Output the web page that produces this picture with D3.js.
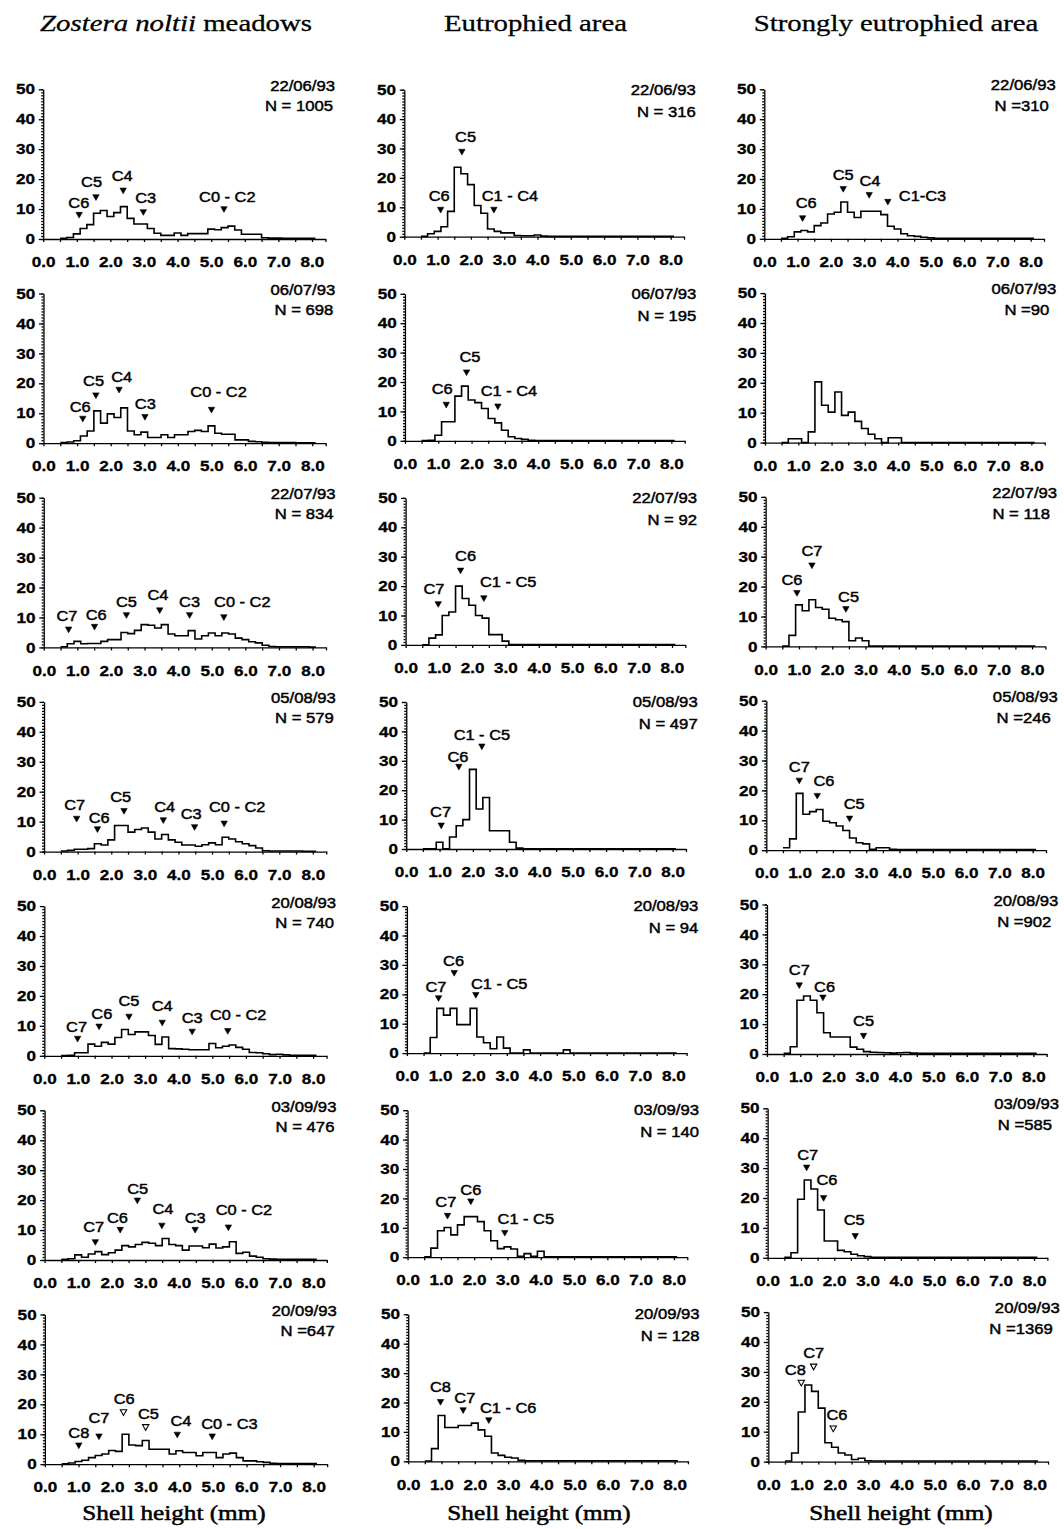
<!DOCTYPE html>
<html><head><meta charset="utf-8">
<script src="https://cdn.jsdelivr.net/npm/d3@7"></script>
<style>body{margin:0;background:#fff}</style>
</head><body>
<svg id="chart" width="1064" height="1529"></svg>
<script>
// ---------------- DATA ----------------
const columnTitles = ["Zostera noltii meadows", "Eutrophied area", "Strongly eutrophied area"];
const italicPhrase = "Zostera noltii";
const axisTitle = "Shell height (mm)";
const sampleDates = ["22/06/93","06/07/93","22/07/93","05/08/93","20/08/93","03/09/93","20/09/93"];
const xTickValues = [0,1,2,3,4,5,6,7,8];
const xTickLabels = ["0.0","1.0","2.0","3.0","4.0","5.0","6.0","7.0","8.0"];
const xMinorTicks = [0.5,1.5,2.5,3.5,4.5,5.5,6.5,7.5,8.4];
const yTickValues = [0,10,20,30,40,50];
const yTickLabels = ["0","10","20","30","40","50"];
// size classes (mm, class mid-points), width 0.2 mm
const binMids = [0.6,0.8,1.0,1.2,1.4,1.6,1.8,2.0,2.2,2.4,2.6,2.8,3.0,3.2,3.4,3.6,3.8,4.0,4.2,4.4,
                 4.6,4.8,5.0,5.2,5.4,5.6,5.8,6.0,6.2,6.4,6.6,6.8,7.0,7.2,7.4,7.6,7.8,8.0];
const binWidth = 0.2;

const zosteraN = ["N = 1005","N = 698","N = 834","N = 579","N = 740","N = 476","N =647"];
const eutrophN = ["N = 316","N = 195","N = 92","N = 497","N = 94","N = 140","N = 128"];
const strongN  = ["N =310","N =90","N = 118","N =246","N =902","N =585","N =1369"];

// frequency (%) per size class
const zosteraFreq = [
 [0.2,0.5,1.7,3.5,4.8,8.6,9.5,7.5,8.8,10.8,6.9,5.0,5.0,3.5,1.9,1.2,1.2,2.0,1.2,1.8,1.8,1.8,3.3,3.1,3.8,4.3,3.0,1.6,1.6,1.6,0.4,0.3,0.3,0.2,0.2,0.2,0.2,0.2],
 [0.2,0.4,0.8,2.4,4.1,10.8,6.7,9.8,8.6,11.8,4.1,2.8,3.7,1.9,1.9,2.8,1.9,2.8,2.8,3.9,4.3,3.9,5.8,3.3,3.0,3.0,1.1,1.1,0.6,0.5,0.3,0.2,0.2,0.2,0.2,0.1,0.1,0.1],
 [0.2,1.2,2.0,1.2,1.3,1.3,2.0,2.6,2.6,5.0,4.6,5.7,7.6,7.4,6.5,7.6,4.5,3.9,3.9,5.6,2.8,3.9,4.8,3.9,4.8,4.5,3.1,2.6,1.9,1.5,0.7,0.3,0.2,0.2,0.2,0.2,0.2,0.1],
 [0.2,0.4,0.8,0.8,1.0,2.6,2.2,3.9,8.7,8.7,6.5,7.4,7.9,6.5,4.2,5.7,3.9,3.1,2.2,2.2,1.8,2.3,2.9,2.3,4.8,4.2,3.3,2.6,2.0,1.2,0.3,0.2,0.2,0.2,0.2,0.2,0.1,0.1],
 [0.1,0.2,1.0,1.0,3.9,3.2,4.5,3.9,6.1,8.8,7.1,8.0,8.0,6.8,3.8,6.3,2.4,2.3,2.2,2.0,2.0,2.0,4.1,2.7,3.2,3.6,2.8,2.2,1.1,1.0,0.7,0.4,0.5,0.3,0.2,0.2,0.2,0.2],
 [0.2,0.4,1.7,0.9,2.0,2.8,1.8,2.4,3.3,4.8,4.4,5.2,5.9,5.6,4.8,7.2,5.2,4.8,3.3,4.7,4.7,4.1,5.3,4.0,4.4,6.1,2.2,2.6,1.3,0.9,0.4,0.3,0.2,0.2,0.2,0.2,0.2,0.2],
 [0.1,0.4,0.9,1.3,2.2,2.9,3.4,4.6,4.3,10.0,6.4,6.2,7.9,5.0,5.0,5.0,3.4,4.5,3.9,3.9,2.8,3.9,3.9,2.2,3.4,3.7,2.2,1.1,1.1,0.8,0.6,0.3,0.2,0.2,0.2,0.2,0.2,0.2]
];
const eutrophFreq = [
 [0.1,1.0,1.8,3.4,8.6,23.6,21.4,17.7,10.6,8.0,2.6,1.8,1.3,1.3,0.4,0.3,0.3,0.6,0.2,0.1,0.1,0.1,0.1,0.1,0.1,0.1,0.1,0.1,0.1,0.1,0.1,0.1,0.1,0.1,0.1,0.1,0.1,0.1],
 [0.1,0.2,1.9,6.5,6.5,15.2,18.6,13.9,13.0,11.0,7.6,6.1,3.6,1.4,0.8,0.5,0.2,0.1,0.1,0.1,0.1,0.1,0.1,0.1,0.1,0.1,0.1,0.1,0.1,0.1,0.1,0.1,0.1,0.1,0.1,0.1,0.1,0.1],
 [0.0,2.3,3.4,10.0,11.2,20.0,15.8,13.5,10.0,9.1,3.5,3.5,1.3,0.1,0.1,0.1,0.1,0.1,0.1,0.1,0.1,0.1,0.1,0.1,0.1,0.1,0.1,0.1,0.1,0.1,0.1,0.1,0.1,0.1,0.1,0.1,0.1,0.1],
 [0.1,0.1,2.3,0.1,4.1,7.9,10.0,27.1,13.6,17.5,6.2,6.2,6.2,2.3,0.3,0.1,0.1,0.1,0.1,0.1,0.1,0.1,0.1,0.1,0.1,0.1,0.1,0.1,0.1,0.1,0.1,0.1,0.1,0.1,0.1,0.1,0.1,0.1],
 [0.0,5.3,15.2,12.9,15.2,9.7,9.7,15.2,5.5,3.5,1.5,5.5,1.7,0.0,0.0,1.1,0.0,0.0,0.0,0.0,0.0,1.1,0.0,0.0,0.0,0.0,0.0,0.0,0.0,0.0,0.0,0.0,0.0,0.0,0.0,0.0,0.0,0.0],
 [0.1,3.1,9.0,10.1,7.6,11.0,13.8,13.8,12.1,9.0,5.6,2.9,3.5,2.8,0.3,1.2,0.3,2.0,0.1,0.1,0.1,0.1,0.1,0.1,0.1,0.1,0.1,0.1,0.1,0.1,0.1,0.1,0.1,0.1,0.1,0.1,0.1,0.1],
 [0.1,4.3,15.6,11.5,11.5,12.2,12.2,13.0,10.7,8.5,2.8,2.0,1.4,1.1,0.3,0.2,0.2,0.2,0.2,0.2,0.2,0.2,0.2,0.2,0.2,0.2,0.2,0.2,0.2,0.2,0.2,0.2,0.2,0.2,0.2,0.2,0.2,0.2]
];
const strongFreq = [
 [0.2,0.7,2.3,2.8,2.3,4.4,5.3,8.3,8.9,12.3,8.9,7.1,9.2,9.2,9.2,8.1,4.2,3.3,1.7,1.0,0.8,0.5,0.3,0.2,0.2,0.2,0.2,0.2,0.2,0.2,0.2,0.2,0.2,0.2,0.2,0.2,0.2,0.2],
 [0.0,1.3,1.3,0.0,3.6,20.3,12.5,10.2,16.9,9.1,10.2,7.1,4.7,2.8,1.3,0.0,1.6,1.6,0.0,0.0,0.0,0.0,0.0,0.0,0.0,0.0,0.0,0.0,0.0,0.0,0.0,0.0,0.0,0.0,0.0,0.0,0.0,0.0],
 [0.1,3.7,13.9,11.9,15.6,13.0,12.4,9.4,8.9,8.3,1.9,2.8,1.9,0.1,0.1,0.1,0.1,0.1,0.1,0.1,0.1,0.1,0.1,0.1,0.1,0.1,0.1,0.1,0.1,0.1,0.1,0.1,0.1,0.1,0.1,0.1,0.1,0.1],
 [0.8,3.8,19.0,12.0,12.9,13.6,9.7,9.2,8.1,6.6,4.1,2.5,2.1,0.3,0.8,0.8,0.3,0.2,0.2,0.2,0.2,0.2,0.2,0.2,0.2,0.2,0.2,0.2,0.2,0.2,0.2,0.2,0.2,0.2,0.2,0.2,0.2,0.2],
 [0.2,2.4,18.0,19.4,18.0,13.8,7.1,5.7,5.7,5.7,2.3,1.6,0.8,0.6,0.5,0.4,0.3,0.4,0.5,0.3,0.2,0.2,0.2,0.2,0.2,0.2,0.2,0.2,0.2,0.2,0.2,0.2,0.2,0.2,0.2,0.2,0.2,0.2],
 [0.2,1.7,19.6,26.0,23.0,16.0,5.6,5.6,2.5,2.0,1.2,0.7,0.4,0.2,0.2,0.2,0.2,0.2,0.2,0.2,0.2,0.2,0.2,0.2,0.2,0.2,0.2,0.2,0.2,0.2,0.2,0.2,0.2,0.2,0.2,0.2,0.2,0.2],
 [0.2,2.9,16.6,25.6,23.5,17.9,6.3,4.8,2.9,2.2,0.7,1.1,0.3,0.2,0.2,0.2,0.2,0.2,0.2,0.2,0.2,0.2,0.2,0.2,0.2,0.2,0.2,0.2,0.2,0.2,0.2,0.2,0.2,0.2,0.2,0.2,0.2,0.2]
];

// cohort marks: [name, mode size (mm), marker level (%), label centre size (mm), label centre level (%)]
const zosteraCohorts = [
 [["C6",1.07,8.0,1.06,12.1],["C5",1.57,13.9,1.44,19.2],["C4",2.38,16.1,2.35,21.0],["C3",2.98,8.9,3.05,13.6],["C0 - C2",5.38,9.9,5.48,14.1]],
 [["C6",1.17,8.1,1.09,12.2],["C5",1.56,15.9,1.49,20.9],["C4",2.25,17.8,2.33,22.0],["C3",3.02,8.7,3.03,13.0],["C0 - C2",5.0,11.1,5.21,17.2]],
 [["C7",0.74,5.9,0.69,10.4],["C6",1.51,6.8,1.56,10.9],["C5",2.46,10.7,2.46,15.2],["C4",3.45,12.3,3.40,17.6],["C3",4.34,10.7,4.34,15.1],["C0 - C2",5.36,10.0,5.91,15.1]],
 [["C7",0.97,10.9,0.91,15.7],["C6",1.59,7.4,1.64,11.3],["C5",2.38,13.5,2.28,18.2],["C4",3.55,10.4,3.59,14.8],["C3",4.48,8.1,4.38,12.6],["C0 - C2",5.36,9.3,5.75,14.8]],
 [["C7",0.99,5.6,0.96,9.7],["C6",1.63,9.7,1.71,14.1],["C5",2.52,13.0,2.52,18.4],["C4",3.51,11.0,3.51,16.6],["C3",4.40,8.0,4.40,12.8],["C0 - C2",5.46,8.2,5.77,13.6]],
 [["C7",1.51,5.9,1.46,11.1],["C6",2.25,10.0,2.17,13.9],["C5",2.76,19.8,2.77,23.6],["C4",3.49,11.4,3.52,17.0],["C3",4.48,10.0,4.48,14.2],["C0 - C2",5.47,10.8,5.93,16.7]],
 [["C8",1.01,6.2,1.01,10.3],["C7",1.61,9.2,1.61,15.3],["C6",2.34,17.3,2.36,21.8],["C5",3.0,12.3,3.08,16.8],["C4",3.94,9.8,4.05,14.3],["C0 - C3",4.98,9.2,5.49,13.6]]
];
const eutrophCohorts = [
 [["C6",1.09,9.1,1.05,14.0],["C5",1.73,28.8,1.84,33.9],["C1 - C4",2.69,9.1,3.17,14.0]],
 [["C6",1.24,12.2,1.12,17.5],["C5",1.85,23.2,1.95,28.4],["C1 - C4",2.79,11.6,3.12,16.9]],
 [["C7",0.98,13.8,0.85,19.2],["C6",1.65,25.2,1.80,30.3],["C1 - C5",2.35,15.8,3.08,21.5]],
 [["C7",1.05,7.9,1.03,12.7],["C6",1.58,27.9,1.55,31.3],["C1 - C5",2.27,34.8,2.27,38.8]],
 [["C7",0.95,18.6,0.87,22.4],["C6",1.42,27.2,1.40,31.5],["C1 - C5",2.07,19.7,2.77,23.5]],
 [["C7",1.20,14.0,1.15,18.9],["C6",1.90,18.9,1.90,23.0],["C1 - C5",2.92,8.2,3.55,13.0]],
 [["C8",0.97,20.1,0.97,25.2],["C7",1.65,17.3,1.70,21.5],["C1 - C6",2.42,13.9,3.0,18.1]]
];
const strongCohorts = [
 [["C6",1.15,6.8,1.26,12.0],["C5",2.37,16.6,2.37,21.4],["C4",3.15,14.6,3.17,19.4],["C1-C3",3.71,12.3,4.75,14.3]],
 [],
 [["C6",0.94,17.8,0.79,22.2],["C7",1.39,27.0,1.39,32.0],["C5",2.41,12.4,2.49,16.7]],
 [["C7",0.99,23.2,0.99,27.9],["C6",1.53,18.1,1.73,23.2],["C5",2.50,10.5,2.64,15.5]],
 [["C7",0.97,22.9,0.97,28.0],["C6",1.68,18.8,1.73,22.4],["C5",2.90,6.0,2.90,11.0]],
 [["C7",1.17,30.1,1.20,34.5],["C6",1.68,19.9,1.78,25.9],["C5",2.63,7.2,2.60,12.7]],
 [["C8",0.99,26.3,0.81,30.8],["C7",1.36,31.7,1.36,36.4],["C6",1.95,11.0,2.06,15.5]]
];
// cohorts drawn with an open triangle: "column-row-name"
const openCohorts = ["0-6-C6","0-6-C5","2-6-C8","2-6-C7","2-6-C6"];

// ---------------- DRAWING ----------------
const SANS = "'Liberation Sans', Arial, Helvetica, sans-serif";
const SERIF = "'Liberation Serif', 'Times New Roman', serif";
const svg = d3.select("#chart");
svg.append("rect").attr("width",1064).attr("height",1529).attr("fill","#fff");

const panelsByColumn = [
  {freq: zosteraFreq, n: zosteraN, cohorts: zosteraCohorts},
  {freq: eutrophFreq, n: eutrophN, cohorts: eutrophCohorts},
  {freq: strongFreq,  n: strongN,  cohorts: strongCohorts}
];
const L = {
  x0: [43.2, 404.3, 764.3], skew: [0.28, 0.65, 0.67], unit: [33.6, 33.3, 33.3],
  top: [89.3, 89.7, 89.3], rowStep: [204.2, 204.1, 203.8], h: [149.7, 147, 149.5],
  dateDx: [23, 25, 25], nDx: [21, 25, 18], dateDy: [1.5, 5, 1], nDy: [21.5, 27, 22],
  titleX: [176, 535.5, 896], axisTitleX: [174, 539, 901]
};
const SX = 1.18;

function sText(parent, x, y, str, o = {}) {
  return parent.append("text")
    .attr("transform", `translate(${x},${y}) scale(${o.sx || SX},1)`)
    .attr("text-anchor", o.anchor || "start")
    .attr("font-family", o.family || SANS)
    .attr("font-size", o.size || 14)
    .attr("font-weight", o.weight || "normal")
    .attr("dy", o.dy || 0)
    .attr("fill", "#000")
    .attr("stroke", "#000").attr("stroke-width", o.sw == null ? 0.45 : o.sw)
    .text(str);
}

// column titles and axis titles
columnTitles.forEach((t, c) => {
  const tx = svg.append("text")
    .attr("transform", `translate(${L.titleX[c]},31) scale(1.2,1)`)
    .attr("text-anchor", "middle").attr("font-family", SERIF).attr("font-size", 24)
    .attr("stroke", "#000").attr("stroke-width", 0.3);
  if (t.startsWith(italicPhrase)) {
    tx.append("tspan").attr("font-style", "italic").text(italicPhrase);
    tx.append("tspan").text(t.slice(italicPhrase.length));
  } else tx.text(t);
  sText(svg, L.axisTitleX[c], 1520, axisTitle, {family: SERIF, size: 21, anchor: "middle", sx: 1.2, sw: 0.5});
});

const binEdges = binMids.map(m => m - binWidth / 2);

panelsByColumn.forEach((col, c) => {
  sampleDates.forEach((date, r) => {
    const left = L.x0[c] + L.skew[c] * r;
    const top = L.top[c] + L.rowStep[c] * r;
    const x = d3.scaleLinear().domain([0, 8.4]).range([left, left + 8.4 * L.unit[c]]);
    const y = d3.scaleLinear().domain([0, 50]).range([top + L.h[c], top]);
    const g = svg.append("g");

    // y axis: minor ticks then majors with labels
    const yMinor = g.append("g").attr("transform", `translate(${left},0)`)
      .call(d3.axisLeft(y).tickValues(d3.range(0, 51, 1)).tickSize(2).tickFormat(""));
    const yMajor = g.append("g").attr("transform", `translate(${left},0)`)
      .call(d3.axisLeft(y).tickValues(yTickValues).tickSize(4.5).tickSizeOuter(0).tickPadding(2.5)
        .tickFormat((d, i) => yTickLabels[i]));
    // x axis
    const xMinor = g.append("g").attr("transform", `translate(0,${y(0)})`)
      .call(d3.axisBottom(x).tickValues(xMinorTicks).tickSize(3).tickFormat(""));
    const xMajor = g.append("g").attr("transform", `translate(0,${y(0)})`)
      .call(d3.axisBottom(x).tickValues(xTickValues).tickSize(3).tickSizeOuter(0).tickPadding(15)
        .tickFormat((d, i) => xTickLabels[i]));
    [yMinor, yMajor, xMinor, xMajor].forEach(a => {
      a.selectAll("path,line").attr("stroke", "#000").attr("stroke-width", 1.3);
      a.selectAll("text").attr("font-family", SANS).attr("font-size", 14.5).attr("font-weight", "bold")
        .attr("fill", "#000").attr("stroke", "#000").attr("stroke-width", 0.3)
        .attr("transform", `scale(${SX},1)`);
    });
    yMinor.select(".domain").remove();
    xMinor.select(".domain").remove();

    // histogram outline
    const vals = col.freq[r];
    const pts = binEdges.map((e, i) => [e, vals[i]]);
    pts.push([binEdges[binEdges.length - 1] + binWidth, vals[vals.length - 1]]);
    g.append("path")
      .attr("d", d3.line().x(d => x(d[0])).y(d => y(d[1])).curve(d3.curveStepAfter)(pts))
      .attr("fill", "none").attr("stroke", "#000").attr("stroke-width", 1.6);

    // cohort markers
    col.cohorts[r].forEach(([name, mx, my, lx, ly]) => {
      const open = openCohorts.includes(`${c}-${r}-${name}`);
      g.append("path")
        .attr("transform", `translate(${x(mx)},${y(my)})`)
        .attr("d", "M-3.2,-2.7L3.2,-2.7L0,3Z")
        .attr("fill", open ? "#fff" : "#000").attr("stroke", "#000").attr("stroke-width", open ? 1.1 : 0.6);
      sText(g, x(lx), y(ly), name, {anchor: "middle", dy: "0.35em", size: 14.5, sx: 1.13});
    });

    // date and N
    sText(g, x(8) + L.dateDx[c], top + L.dateDy[c], date, {anchor: "end", size: 14.5, sx: 1.15});
    sText(g, x(8) + L.nDx[c], top + L.nDy[c], col.n[r], {anchor: "end", size: 14.5, sx: 1.15});
  });
});
</script>
</body></html>
